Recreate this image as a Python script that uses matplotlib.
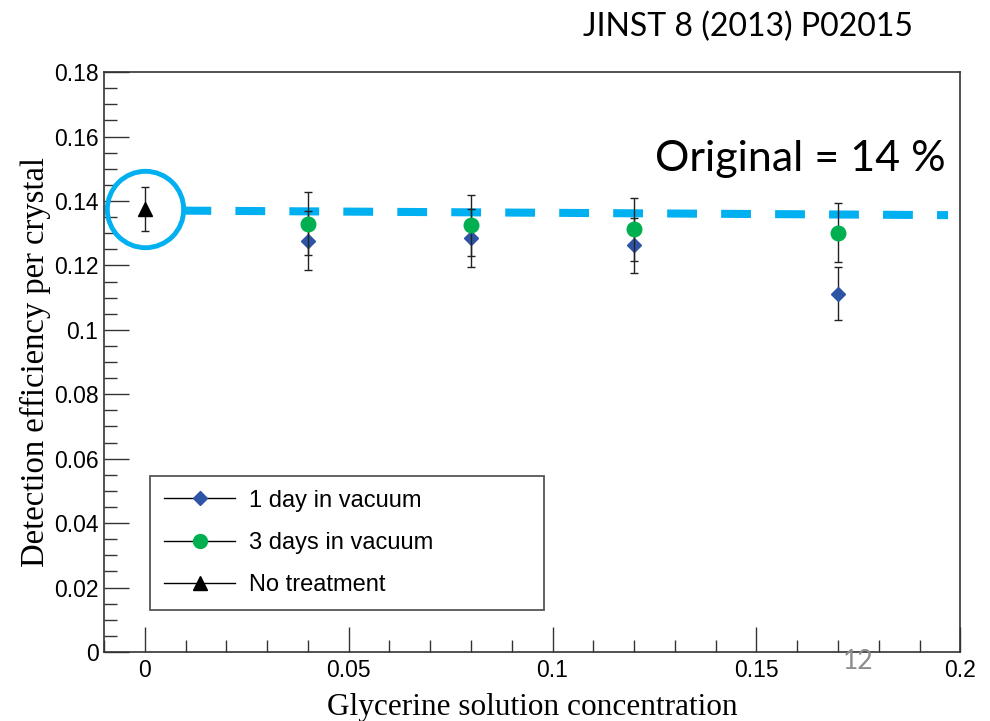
import matplotlib.pyplot as plt
from matplotlib.lines import Line2D
from matplotlib.ticker import MultipleLocator, FormatStrFormatter

# glycerine concentration and efficiencies
conc = [0.04, 0.08, 0.12, 0.17]
eff_1day = [0.1277, 0.1285, 0.1262, 0.1112]
err_1day = [0.0091, 0.0090, 0.0085, 0.0083]
eff_3day = [0.1330, 0.1325, 0.1312, 0.1302]
err_3day = [0.0098, 0.0095, 0.0098, 0.0092]
conc_none = [0.0]
eff_none = [0.1375]
err_none = [0.0068]

# reference "original" line
orig_x = [0.009, 0.197]
orig_y = [0.1370, 0.1356]

blue = '#2E55A5'
green = '#00B050'
cyan = '#00B0F0'

fig = plt.figure(figsize=(9.9, 7.21), dpi=100)
ax = fig.add_axes([0.105, 0.0957, 0.865, 0.8043])

ax.errorbar(conc, eff_1day, yerr=err_1day, fmt='D', color=blue, ms=7.5,
            ecolor='#222222', elinewidth=1, capsize=3, zorder=3)
ax.errorbar(conc, eff_3day, yerr=err_3day, fmt='o', color=green, ms=10.5,
            ecolor='#222222', elinewidth=1, capsize=3, zorder=4)
ax.errorbar(conc_none, eff_none, yerr=err_none, fmt='^', color='black', ms=10,
            ecolor='#222222', elinewidth=1, capsize=3, zorder=4)

ax.plot(orig_x, orig_y, color=cyan, lw=5.8, dashes=(3.7, 3.0), zorder=2)
ax.plot(conc_none, eff_none, 'o', ms=55, mfc='none', mec=cyan, mew=3.5, zorder=2)

ax.set_xlim(-0.01, 0.2)
ax.set_ylim(0, 0.18)
ax.xaxis.set_major_locator(MultipleLocator(0.05))
ax.xaxis.set_minor_locator(MultipleLocator(0.01))
ax.yaxis.set_major_locator(MultipleLocator(0.02))
ax.yaxis.set_minor_locator(MultipleLocator(0.005))
ax.xaxis.set_major_formatter(FormatStrFormatter('%g'))
ax.yaxis.set_major_formatter(FormatStrFormatter('%g'))
ax.tick_params(which='both', direction='in', labelsize=16.5, color='#333333')
ax.tick_params(which='major', length=18, width=1)
ax.tick_params(which='minor', length=9, width=1)
ax.tick_params(axis='x', pad=5)
ax.tick_params(axis='y', pad=4)
for lab in ax.get_xticklabels() + ax.get_yticklabels():
    lab.set_family('Liberation Sans')
for s in ax.spines.values():
    s.set_color('#333333')
    s.set_linewidth(1.2)

ax.set_xlabel('Glycerine solution concentration', family='Liberation Serif',
              fontsize=22.5, labelpad=8)
ax.set_ylabel('Detection efficiency per crystal', family='Liberation Serif',
              fontsize=23.5, labelpad=2)

handles = [
    Line2D([], [], color='black', lw=1, marker='D', ms=7.5, mfc=blue, mec=blue),
    Line2D([], [], color='black', lw=1, marker='o', ms=10, mfc=green, mec=green),
    Line2D([], [], color='black', lw=1, marker='^', ms=10, mfc='black', mec='black'),
]
leg = ax.legend(handles, ['1 day in vacuum', '3 days in vacuum', 'No treatment'],
                loc='lower left', bbox_to_anchor=(0.0537, 0.0724, 0.46, 0.2),
                mode='expand', fancybox=False,
                edgecolor='#555555', framealpha=1, prop={'family': 'Liberation Sans', 'size': 17},
                handlelength=3.0, borderpad=0.6, labelspacing=0.85, handletextpad=0.6,
                borderaxespad=0)
leg.get_frame().set_linewidth(1.3)
leg.set_zorder(5)

fig.text(0.922, 0.962, 'JINST 8 (2013) P02015', ha='right', va='center',
         family='Lato', fontsize=23)
fig.text(0.955, 0.78, 'Original = 14 %', ha='right', va='center',
         family='Lato', fontsize=31)
fig.text(0.867, 0.083, '12', ha='center', va='center', family='Lato',
         fontsize=19, color='#8c8c8c')

fig.savefig('out.png', dpi=100)
